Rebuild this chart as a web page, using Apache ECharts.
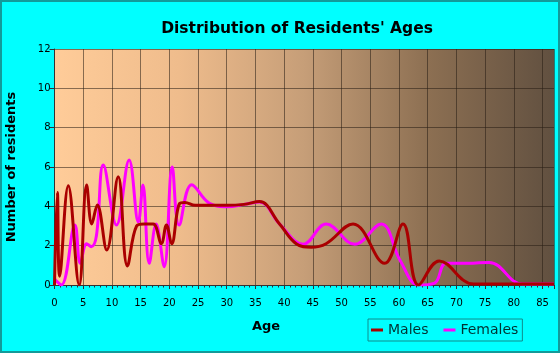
<!DOCTYPE html>
<html>
<head>
<meta charset="utf-8">
<script src="https://cdn.jsdelivr.net/npm/echarts@6/dist/echarts.min.js"></script>
<style>
  html, body { margin: 0; padding: 0; background: #00ffff; }
  #chart { width: 560px; height: 353px; }
</style>
</head>
<body>
<div id="chart"></div>
<script>
  // ages, [age, residents]
  var males = [
    [0, 0], [0.5, 4.7], [0.9, 0.45], [2.4, 5.05], [4.3, 0], [5.6, 5.08], [6.5, 3.1],
    [7.45, 4.07], [9.1, 1.78], [11.1, 5.5], [12.7, 0.97], [14.3, 3.0], [15.6, 3.1],
    [17.2, 3.1], [18.6, 2.1], [19.5, 3.05], [20.4, 2.1], [21.8, 4.15], [22.7, 4.2],
    [24.5, 4.05], [30, 4.05], [33, 4.1], [35.7, 4.24], [39.2, 3.1], [42.1, 2.1],
    [44.7, 1.92], [47.3, 2.1], [52, 3.1], [57.5, 1.1], [60.7, 3.1], [63.4, 0],
    [67, 1.22], [73, 0.05], [80, 0.05], [87, 0.05]
  ]
  var females = [
    [0, 0.3], [1.2, 0], [3.55, 3.05], [4.5, 1.1], [5.6, 2.1], [6.4, 1.95], [7.3, 2.5],
    [8.5, 6.1], [10.8, 3.05], [13, 6.35], [14.6, 3.2], [15.4, 5.08], [16.5, 1.1],
    [17.7, 3.1], [19.1, 0.93], [20.5, 6.0], [21.7, 3.05], [23.9, 5.1], [27, 4.15],
    [30.2, 3.98], [33, 4.1], [35.7, 4.22], [39.2, 3.1], [43.3, 2.07], [47.3, 3.1],
    [52.3, 2.07], [56.9, 3.1], [60.2, 1.25], [63.4, 0],
    [66.2, 0.1], [68.2, 1.1], [72, 1.1], [75.7, 1.15], [81.5, 0.05], [87, 0.05]
  ]
  var xTicks = [0, 5, 10, 15, 20, 25, 30, 35, 40, 45, 50, 55, 60, 65, 70, 75, 80, 85]
  var yTicks = [0, 2, 4, 6, 8, 10, 12]

  var myChart = echarts.init(document.getElementById('chart'))

  var option = {
    backgroundColor: '#00ffff',
    animation: false,
    title: {
      text: "Distribution of Residents' Ages",
      left: 292,
      top: 16,
      textAlign: 'center',
      textStyle: { fontFamily: 'DejaVu Sans', fontWeight: 'bold', fontSize: 15.5, color: '#000' }
    },
    legend: {
      data: ['Males', 'Females'],
      left: 368,
      top: 319,
      padding: [4, 4, 4, 3],
      itemGap: 15,
      itemWidth: 12,
      itemHeight: 3,
      icon: 'rect',
      borderColor: '#108c8c',
      borderWidth: 1,
      textStyle: { fontFamily: 'DejaVu Sans', fontSize: 14, color: '#003333' }
    },
    grid: {
      left: 54.5,
      right: 6,
      top: 49,
      bottom: 68,
      show: true,
      borderWidth: 0,
      backgroundColor: new echarts.graphic.LinearGradient(0, 0, 1, 0, [
        { offset: 0, color: '#ffcc99' },
        { offset: 0.25, color: '#efbc8c' },
        { offset: 0.5, color: '#c69e78' },
        { offset: 0.75, color: '#8c6f52' },
        { offset: 1, color: '#615040' }
      ])
    },
    xAxis: {
      type: 'value',
      min: 0,
      max: 87,
      interval: 5,
      axisLine: { lineStyle: { color: '#333' } },
      axisTick: { length: 4, lineStyle: { color: '#333' } },
      minorTick: { show: true, splitNumber: 5, length: 2.5, lineStyle: { color: '#333' } },
      axisLabel: {
        margin: 13,
        showMaxLabel: false,
        fontFamily: 'DejaVu Sans',
        fontSize: 10,
        color: '#000',
        formatter: function (v) { return xTicks.indexOf(v) >= 0 ? String(v) : '' }
      },
      splitLine: { show: true, lineStyle: { color: 'rgba(40,30,20,0.55)', width: 1 } }
    },
    yAxis: {
      type: 'value',
      min: 0,
      max: 12,
      interval: 2,
      axisLine: { show: true, lineStyle: { color: '#333' } },
      axisTick: { show: true, length: 5, lineStyle: { color: '#333' } },
      axisLabel: {
        margin: 4,
        fontFamily: 'DejaVu Sans',
        fontSize: 10,
        color: '#000',
        formatter: function (v) { return yTicks.indexOf(v) >= 0 ? String(v) : '' }
      },
      splitLine: { show: true, lineStyle: { color: 'rgba(40,30,20,0.55)', width: 1 } }
    },
    graphic: [
      {
        type: 'rect',
        shape: { x: 1, y: 1, width: 558, height: 351 },
        style: { fill: 'none', stroke: '#139a9a', lineWidth: 2 },
        silent: true
      },
      {
        type: 'text',
        x: 266,
        y: 327,
        style: {
          text: 'Age', fontFamily: 'DejaVu Sans', fontWeight: 'bold', fontSize: 13,
          fill: '#000', textAlign: 'center', textVerticalAlign: 'middle'
        }
      },
      {
        type: 'text',
        x: 12,
        y: 167,
        rotation: Math.PI / 2,
        style: {
          text: 'Number of residents', fontFamily: 'DejaVu Sans', fontWeight: 'bold', fontSize: 13,
          fill: '#000', textAlign: 'center', textVerticalAlign: 'middle'
        }
      }
    ],
    series: [
      {
        name: 'Females',
        type: 'line',
        data: females,
        smooth: 0.4,
        showSymbol: false,
        color: '#ff00ff',
        lineStyle: { color: '#ff00ff', width: 3 },
        z: 2
      },
      {
        name: 'Males',
        type: 'line',
        data: males,
        smooth: 0.4,
        showSymbol: false,
        color: '#aa0000',
        lineStyle: { color: '#aa0000', width: 3 },
        z: 3
      }
    ]
  }

  myChart.setOption(option)
</script>
</body>
</html>
